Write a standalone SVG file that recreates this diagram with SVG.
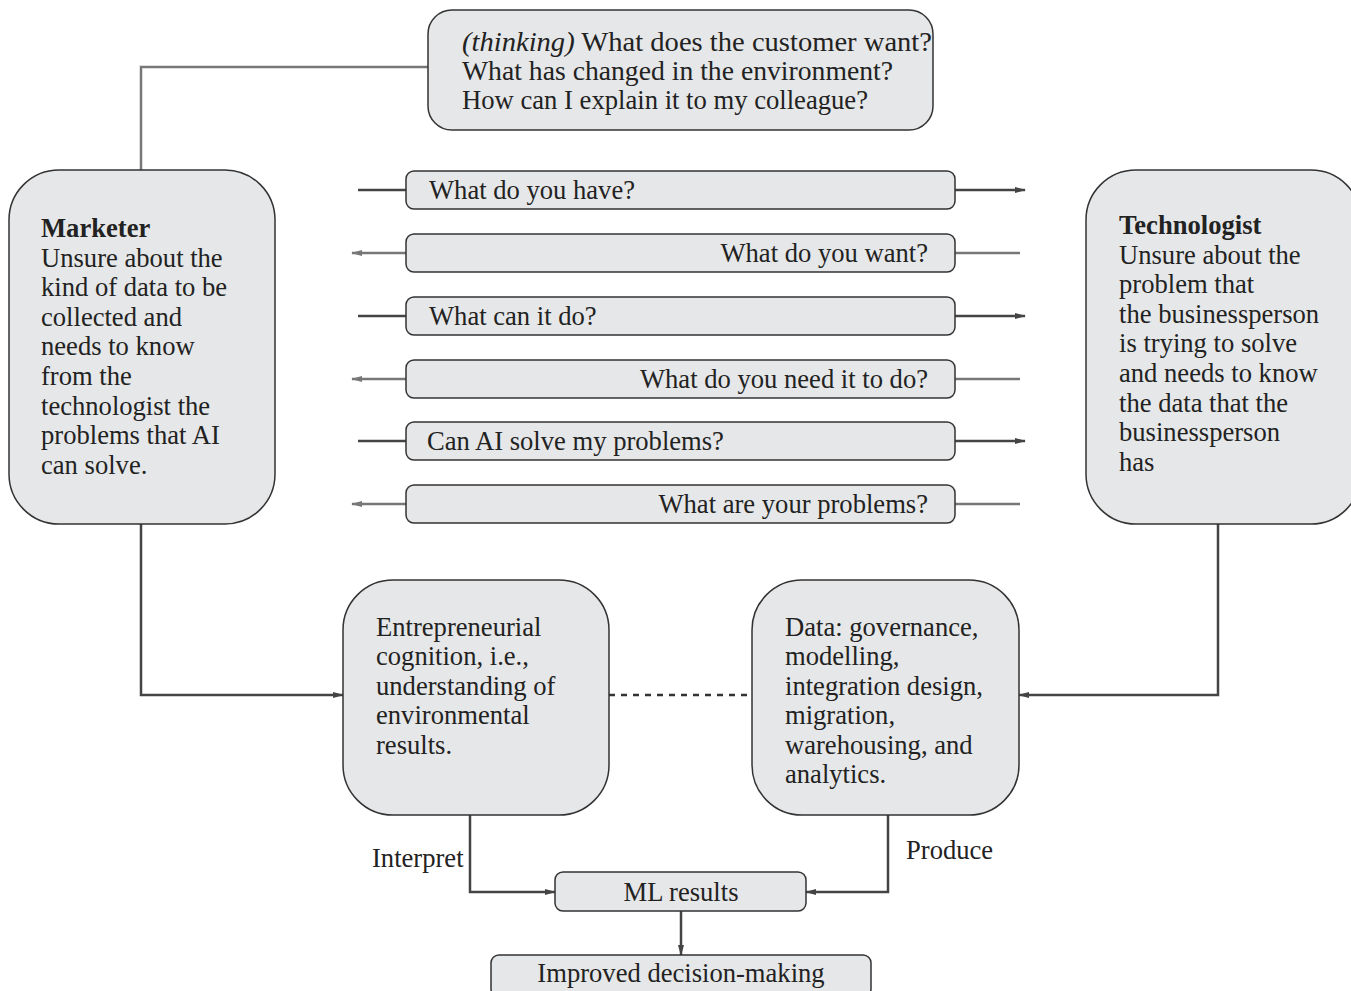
<svg xmlns="http://www.w3.org/2000/svg" width="1351" height="991" viewBox="0 0 1351 991">
<style>
.box{fill:#e6e7e8;stroke:#333;stroke-width:1.5}
.t{font-family:"Liberation Serif","Times New Roman",serif;font-size:26.6px;fill:#222}
.tt{font-family:"Liberation Serif","Times New Roman",serif;font-size:27.5px;fill:#222}
.b{font-weight:bold}
.c{fill:none;stroke:#444;stroke-width:2.5}
.g{fill:none;stroke:#777;stroke-width:2.5}
</style>
<defs>
<marker id="ah" markerWidth="11" markerHeight="8" refX="10" refY="4" orient="auto" markerUnits="userSpaceOnUse"><path d="M0,1 L11,4 L0,7 Z" fill="#444"/></marker>
<marker id="ahg" markerWidth="11" markerHeight="8" refX="10" refY="4" orient="auto" markerUnits="userSpaceOnUse"><path d="M0,1 L11,4 L0,7 Z" fill="#777"/></marker>
</defs>
<g id="connectors">
<path class="g" d="M428,67 H141 V170"/>
<path class="c" d="M358,190 H406"/>
<path class="c" d="M955,190 H1025" marker-end="url(#ah)"/>
<path class="g" d="M1020,253 H955"/>
<path class="g" d="M406,253 H352" marker-end="url(#ahg)"/>
<path class="c" d="M358,316 H406"/>
<path class="c" d="M955,316 H1025" marker-end="url(#ah)"/>
<path class="g" d="M1020,379 H955"/>
<path class="g" d="M406,379 H352" marker-end="url(#ahg)"/>
<path class="c" d="M358,441 H406"/>
<path class="c" d="M955,441 H1025" marker-end="url(#ah)"/>
<path class="g" d="M1020,504 H955"/>
<path class="g" d="M406,504 H352" marker-end="url(#ahg)"/>
<path class="c" d="M141,524 V695 H343" marker-end="url(#ah)"/>
<path class="c" d="M1218,524 V695 H1019" marker-end="url(#ah)"/>
<path d="M609,695 H752" fill="none" stroke="#333" stroke-width="2.5" stroke-dasharray="6,6"/>
<path class="c" d="M470,815 V892 H555" marker-end="url(#ah)"/>
<path class="c" d="M888,815 V892 H806" marker-end="url(#ah)"/>
<path class="c" d="M681,911 V955" marker-end="url(#ah)"/>
</g>
<g id="thinking">
<rect class="box" x="428" y="10" width="505" height="120" rx="24"/>
<text class="tt" x="462" y="51" textLength="470" lengthAdjust="spacingAndGlyphs"><tspan font-style="italic">(thinking)</tspan> What does the customer want?</text>
<text class="tt" x="462" y="80" textLength="431" lengthAdjust="spacingAndGlyphs">What has changed in the environment?</text>
<text class="tt" x="462" y="109" textLength="406" lengthAdjust="spacingAndGlyphs">How can I explain it to my colleague?</text>
</g>
<g id="marketer">
<rect class="box" x="9" y="170" width="266" height="354" rx="50"/>
<text class="t" x="41" y="237"><tspan class="b">Marketer</tspan>
<tspan x="41" dy="29.6">Unsure about the</tspan>
<tspan x="41" dy="29.6">kind of data to be</tspan>
<tspan x="41" dy="29.6">collected and</tspan>
<tspan x="41" dy="29.6">needs to know</tspan>
<tspan x="41" dy="29.6">from the</tspan>
<tspan x="41" dy="29.6">technologist the</tspan>
<tspan x="41" dy="29.6">problems that AI</tspan>
<tspan x="41" dy="29.6">can solve.</tspan></text>
</g>
<g id="technologist">
<rect class="box" x="1086" y="170" width="275" height="354" rx="50"/>
<text class="t" x="1119" y="234"><tspan class="b">Technologist</tspan>
<tspan x="1119" dy="29.6">Unsure about the</tspan>
<tspan x="1119" dy="29.6">problem that</tspan>
<tspan x="1119" dy="29.6">the businessperson</tspan>
<tspan x="1119" dy="29.6">is trying to solve</tspan>
<tspan x="1119" dy="29.6">and needs to know</tspan>
<tspan x="1119" dy="29.6">the data that the</tspan>
<tspan x="1119" dy="29.6">businessperson</tspan>
<tspan x="1119" dy="29.6">has</tspan></text>
</g>
<g id="q1"><rect class="box" x="406" y="171" width="549" height="38" rx="8"/><text class="t" x="429" y="199">What do you have?</text></g>
<g id="q2"><rect class="box" x="406" y="234" width="549" height="38" rx="8"/><text class="t" x="928" y="262" text-anchor="end">What do you want?</text></g>
<g id="q3"><rect class="box" x="406" y="297" width="549" height="38" rx="8"/><text class="t" x="429" y="325">What can it do?</text></g>
<g id="q4"><rect class="box" x="406" y="360" width="549" height="38" rx="8"/><text class="t" x="928" y="388" text-anchor="end">What do you need it to do?</text></g>
<g id="q5"><rect class="box" x="406" y="422" width="549" height="38" rx="8"/><text class="t" x="427" y="450">Can AI solve my problems?</text></g>
<g id="q6"><rect class="box" x="406" y="485" width="549" height="38" rx="8"/><text class="t" x="928" y="513" text-anchor="end">What are your problems?</text></g>
<g id="cognition">
<rect class="box" x="343" y="580" width="266" height="235" rx="50"/>
<text class="t" x="376" y="636">Entrepreneurial
<tspan x="376" dy="29.4">cognition, i.e.,</tspan>
<tspan x="376" dy="29.4">understanding of</tspan>
<tspan x="376" dy="29.4">environmental</tspan>
<tspan x="376" dy="29.4">results.</tspan></text>
</g>
<g id="data">
<rect class="box" x="752" y="580" width="267" height="235" rx="50"/>
<text class="t" x="785" y="636">Data: governance,
<tspan x="785" dy="29.4">modelling,</tspan>
<tspan x="785" dy="29.4">integration design,</tspan>
<tspan x="785" dy="29.4">migration,</tspan>
<tspan x="785" dy="29.4">warehousing, and</tspan>
<tspan x="785" dy="29.4">analytics.</tspan></text>
</g>
<g id="labels">
<text class="t" x="372" y="867">Interpret</text>
<text class="t" x="906" y="859">Produce</text>
</g>
<g id="ml"><rect class="box" x="555" y="872" width="251" height="39" rx="8"/><text class="t" x="681" y="901" text-anchor="middle">ML results</text></g>
<g id="decision"><rect class="box" x="491" y="955" width="380" height="42" rx="8"/><text class="t" x="681" y="982" text-anchor="middle">Improved decision-making</text></g>
</svg>
